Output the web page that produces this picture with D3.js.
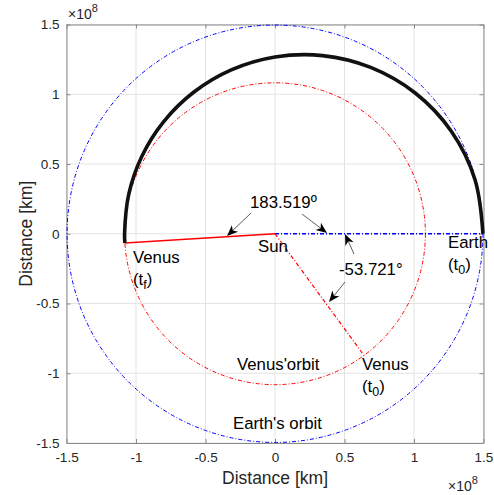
<!DOCTYPE html>
<html>
<head>
<meta charset="utf-8">
<script src="https://cdn.jsdelivr.net/npm/d3@7"></script>
<style>
  html, body { margin: 0; padding: 0; background: #fff; }
  svg { display: block; font-family: "Liberation Sans", Arial, Helvetica, sans-serif; }
</style>
</head>
<body>
<svg id="chart" width="494" height="495"></svg>
<script>
// Axis ticks (units of 1e8 km)
const tickValues = [-1.5, -1, -0.5, 0, 0.5, 1, 1.5];

// Orbit radii (1e8 km)
const earthRadius = 1.496;
const venusRadius = 1.082;

// Angles (degrees) of Venus at departure and arrival
const venusAngleT0 = -53.721;
const venusAngleTf = 183.519;

// Transfer trajectory from Earth (t0) to Venus (tf), in 1e8 km
const transferX = [1.496, 1.4395, 1.2696, 1.0088, 0.6884, 0.3421, 0.0, -0.3146, -0.5854, -0.8020, -0.9586, -1.0524, -1.0822, -1.0800];
const transferY = [0.000, 0.3857, 0.7330, 1.0088, 1.1924, 1.2769, 1.2670, 1.1743, 1.0140, 0.8020, 0.5535, 0.2820, 0.0000, -0.0664];

const svg = d3.select("#chart");
const padL = 66.5, padR = 483.5, padT = 24.5, padB = 443;

const x = d3.scaleLinear().domain([-1.5, 1.5]).range([padL, padR]);
const y = d3.scaleLinear().domain([-1.5, 1.5]).range([padB, padT]);
const fmt = d => String(d);

const axisColor = "#8a8a8a";
const textColor = "#262626";

// grid
const grid = svg.append("g");
tickValues.forEach(t => {
  grid.append("line").attr("x1", x(t)).attr("x2", x(t)).attr("y1", padT).attr("y2", padB)
    .attr("stroke", "#e3e3e3").attr("stroke-width", 1);
  grid.append("line").attr("y1", y(t)).attr("y2", y(t)).attr("x1", padL).attr("x2", padR)
    .attr("stroke", "#e3e3e3").attr("stroke-width", 1);
});

// axes with inward ticks
function styleAxis(g) {
  g.select(".domain").attr("stroke", axisColor);
  g.selectAll(".tick line").attr("stroke", axisColor);
  g.selectAll(".tick text").attr("fill", textColor).style("font-size", "13.5px")
    .style("font-family", '"Liberation Sans", Arial, sans-serif');
}
const ax = d3.axisBottom(x).tickValues(tickValues).tickFormat(fmt).tickSizeInner(-4).tickSizeOuter(0).tickPadding(9);
svg.append("g").attr("transform", `translate(0,${padB})`).call(ax).call(styleAxis);
const ay = d3.axisLeft(y).tickValues(tickValues).tickFormat(fmt).tickSizeInner(-4).tickSizeOuter(0).tickPadding(7);
svg.append("g").attr("transform", `translate(${padL},0)`).call(ay).call(styleAxis);
const axT = d3.axisTop(x).tickValues(tickValues).tickFormat("").tickSizeInner(-4).tickSizeOuter(0);
svg.append("g").attr("transform", `translate(0,${padT})`).call(axT).call(styleAxis);
const ayR = d3.axisRight(y).tickValues(tickValues).tickFormat("").tickSizeInner(-4).tickSizeOuter(0);
svg.append("g").attr("transform", `translate(${padR},0)`).call(ayR).call(styleAxis);

// axis labels
svg.append("text").attr("x", (padL + padR) / 2).attr("y", 484).attr("text-anchor", "middle")
  .attr("fill", textColor).style("font-size", "17.5px").text("Distance [km]");
svg.append("text").attr("transform", `translate(32,${(padT + padB) / 2}) rotate(-90)`).attr("text-anchor", "middle")
  .attr("fill", textColor).style("font-size", "17.5px").text("Distance [km]");

// exponent labels
function exponent(xp, yp) {
  const t = svg.append("text").attr("x", xp).attr("y", yp).attr("fill", textColor).style("font-size", "14px");
  t.append("tspan").text("×10");
  t.append("tspan").attr("dy", -7).style("font-size", "11px").text("8");
}
exponent(68, 19);
exponent(448, 491);

const plot = svg.append("g");
const dashDot = "4,2,1,2";
const rad = d => d * Math.PI / 180;

// Earth's orbit
plot.append("ellipse").attr("cx", x(0)).attr("cy", y(0))
  .attr("rx", x(earthRadius) - x(0)).attr("ry", y(0) - y(earthRadius))
  .attr("fill", "none").attr("stroke", "#0000ff").attr("stroke-width", 1).attr("stroke-dasharray", dashDot);
// Venus' orbit
plot.append("ellipse").attr("cx", x(0)).attr("cy", y(0))
  .attr("rx", x(venusRadius) - x(0)).attr("ry", y(0) - y(venusRadius))
  .attr("fill", "none").attr("stroke", "#ff0000").attr("stroke-width", 1).attr("stroke-dasharray", dashDot);

// Sun - Earth line
plot.append("line").attr("x1", x(0)).attr("y1", y(0)).attr("x2", x(earthRadius)).attr("y2", y(0))
  .attr("stroke", "#0000ff").attr("stroke-width", 1.3).attr("stroke-dasharray", dashDot);
// Sun - Venus(t0)
plot.append("line").attr("x1", x(0)).attr("y1", y(0))
  .attr("x2", x(venusRadius * Math.cos(rad(venusAngleT0)))).attr("y2", y(venusRadius * Math.sin(rad(venusAngleT0))))
  .attr("stroke", "#ff0000").attr("stroke-width", 1.2).attr("stroke-dasharray", dashDot);
// Sun - Venus(tf)
plot.append("line").attr("x1", x(0)).attr("y1", y(0))
  .attr("x2", x(venusRadius * Math.cos(rad(venusAngleTf)))).attr("y2", y(venusRadius * Math.sin(rad(venusAngleTf))))
  .attr("stroke", "#ff0000").attr("stroke-width", 1.3);

// Transfer trajectory
const transfer = transferX.map((v, i) => [v, transferY[i]]);
plot.append("path").datum(transfer)
  .attr("d", d3.line().x(d => x(d[0])).y(d => y(d[1])).curve(d3.curveCatmullRom.alpha(0.5)))
  .attr("fill", "none").attr("stroke", "#111").attr("stroke-width", 3.6);

// annotation arrows (pixel coordinates)
function arrow(x1, y1, x2, y2) {
  const a = Math.atan2(y2 - y1, x2 - x1);
  const L = 11, W = 4.5, back = 8;
  const p = (dx, dy) => [x2 + dx * Math.cos(a) - dy * Math.sin(a), y2 + dx * Math.sin(a) + dy * Math.cos(a)];
  plot.append("line").attr("x1", x1).attr("y1", y1).attr("x2", p(-back, 0)[0]).attr("y2", p(-back, 0)[1])
    .attr("stroke", "#333").attr("stroke-width", 0.8);
  plot.append("polygon").attr("points", [p(0, 0), p(-L, -W), p(-back, 0), p(-L, W)].map(q => q.join(",")).join(" "))
    .attr("fill", "#000");
}
arrow(251, 213, 227, 236);
arrow(302, 214, 327, 233);
arrow(354, 254, 345, 234);
arrow(345, 282, 329, 302);

// text labels
function label(txt, xp, yp, sub) {
  const t = plot.append("text").attr("x", xp).attr("y", yp).attr("fill", "#000").style("font-size", "16.8px");
  if (sub) {
    t.append("tspan").text("(t");
    t.append("tspan").attr("dy", 4).style("font-size", "12.5px").text(sub);
    t.append("tspan").attr("dy", -4).text(")");
  } else {
    t.text(txt);
  }
}
label("183.519º", 250, 208);
label("Sun", 258, 252);
label("Venus", 133, 263);
label("", 133, 285, "f");
label("Earth", 448, 248);
label("", 448, 270, "0");
label("-53.721°", 339, 275);
label("Venus'orbit", 237, 370);
label("Venus", 362, 370);
label("", 362, 392, "0");
label("Earth's orbit", 233, 429);
</script>
</body>
</html>
